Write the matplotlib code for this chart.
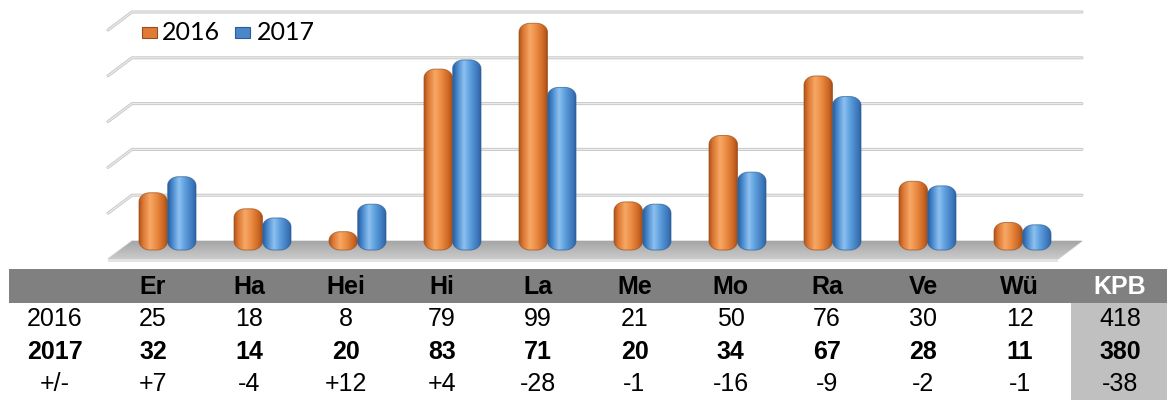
import numpy as np
import matplotlib
matplotlib.use("Agg")
import matplotlib.pyplot as plt
from matplotlib.patches import Polygon, Rectangle

# ---- data -------------------------------------------------------------
categories = ["Er", "Ha", "Hei", "Hi", "La", "Me", "Mo", "Ra", "Ve", "Wü"]
values_2016 = [25, 18, 8, 79, 99, 21, 50, 76, 30, 12]
values_2017 = [32, 14, 20, 83, 71, 20, 34, 67, 28, 11]
series_labels = ["2016", "2017"]
diff_label = "+/-"
total_label = "KPB"
gridline_values = [20, 40, 60, 80, 100]

totals = [sum(values_2016), sum(values_2017)]
diffs = [b - a for a, b in zip(values_2016, values_2017)]
total_diff = totals[1] - totals[0]

# ---- figure -----------------------------------------------------------
W, H = 1167, 400
fig = plt.figure(figsize=(W / 100, H / 100), dpi=100)
fig.patch.set_facecolor("white")

# table / legend layer in pixel coordinates
tax = fig.add_axes([0, 0, 1, 1], zorder=0)
tax.set_xlim(0, W)
tax.set_ylim(H, 0)
tax.axis("off")

# chart layer: x = category index, y = value
ax = fig.add_axes([120 / W, 150 / H, 950 / W, 229 / H], zorder=1)
ax.axis("off")
XMIN, XMAX = -0.5, len(categories) - 0.5
px_x = 950 / (XMAX - XMIN)      # pixels per category
px_y = 229 / 100.0              # pixels per value unit
dx = 12 / px_x                  # half depth of the floor (x)
dy = 9 / px_y                   # half depth of the floor (y)

# back-wall gridlines with their slanted side-wall segment
for v in gridline_values:
    ax.plot([XMIN - dx, XMIN + dx, XMAX + dx], [v - dy, v + dy, v + dy],
            color="#c9c9c9", lw=2.2, solid_capstyle="round", clip_on=False, zorder=1)
    ax.plot([XMIN - dx, XMIN + dx, XMAX + dx], [v - dy, v + dy, v + dy],
            color="#ededed", lw=0.8, clip_on=False, zorder=1)

# floor (parallelogram with a soft gradient and a thin front face)
floor = Polygon([(XMIN - dx, -dy), (XMAX - dx, -dy), (XMAX + dx, dy), (XMIN + dx, dy)],
                closed=True, facecolor="none", edgecolor="#d6d6d6", lw=1.0,
                clip_on=False, zorder=2)
ax.add_patch(floor)
fgrad = np.linspace(0, 1, 64)[:, None] * np.ones((1, 4))
fimg = ax.imshow(fgrad, extent=[XMIN - dx, XMAX + dx, -dy, dy], origin="upper",
                 cmap=matplotlib.colors.LinearSegmentedColormap.from_list(
                     "floor", ["#a6a6a6", "#cacaca"]),
                 aspect="auto", interpolation="bicubic", zorder=2)
fimg.set_clip_box(fig.bbox)
fimg.set_clip_path(floor)
front = Polygon([(XMIN - dx, -dy), (XMAX - dx, -dy), (XMAX - dx, -dy - 3 / px_y),
                 (XMIN - dx, -dy - 3 / px_y)], closed=True, facecolor="#e3e3e3",
                edgecolor="none", clip_on=False, zorder=2)
ax.add_patch(front)


def shade(stops, n=96):
    pos = np.array([s[0] for s in stops])
    cols = np.array([matplotlib.colors.to_rgb(s[1]) for s in stops])
    t = np.linspace(0, 1, n)
    return np.stack([np.interp(t, pos, cols[:, k]) for k in range(3)], axis=-1)[None, :, :]


orange_grad = shade([(0.0, "#a9521c"), (0.12, "#d9732e"), (0.38, "#f7a866"),
                     (0.6, "#ec8c44"), (0.88, "#c8631f"), (1.0, "#99481a")])
blue_grad = shade([(0.0, "#2a5f9e"), (0.12, "#3f80c6"), (0.38, "#8dc1f0"),
                   (0.6, "#5b9ddc"), (0.88, "#3a74b8"), (1.0, "#285a96")])


def rounded_bar(x0, x1, top, rx, ry_max, n=14):
    ry = min(ry_max, top / 2.0)
    t = np.linspace(0, np.pi / 2, n)
    pts = []
    # bottom-left, bottom-right, top-right, top-left corners
    for cx, cy, a0 in [(x0 + rx, ry, np.pi), (x1 - rx, ry, 1.5 * np.pi),
                       (x1 - rx, top - ry, 0.0), (x0 + rx, top - ry, 0.5 * np.pi)]:
        ang = a0 + t
        pts.extend(zip(cx + rx * np.cos(ang), cy + ry * np.sin(ang)))
    return np.array(pts)


bar_w = 0.3
rx = 11 / px_x
ry = 9 / px_y
for vals, grad, edge, side in [(values_2016, orange_grad, "#a0501c", -1),
                               (values_2017, blue_grad, "#2f5f98", 0)]:
    for i, v in enumerate(vals):
        x0 = i + side * bar_w
        x1 = x0 + bar_w
        poly = Polygon(rounded_bar(x0, x1, v, rx, ry), closed=True,
                       facecolor="none", edgecolor=edge, lw=0.7, alpha=0.7,
                       clip_on=False, zorder=4)
        ax.add_patch(poly)
        img = ax.imshow(grad, extent=[x0, x1, 0, v], aspect="auto",
                        interpolation="bicubic", zorder=3)
        img.set_clip_box(fig.bbox)
        img.set_clip_path(poly)

ax.set_xlim(XMIN, XMAX)
ax.set_ylim(0, 100)

# ---- legend -----------------------------------------------------------
for lx, tx, col, edge, lab in [(142, 162, "#e07b35", "#9a4c1a", series_labels[0]),
                               (235, 257, "#4a86c8", "#2c5c94", series_labels[1])]:
    tax.add_patch(Rectangle((lx, 27), 15, 11, facecolor=col, edgecolor=edge, lw=0.8))
    tax.text(tx, 33, lab, fontsize=18, family="Lato", va="center", ha="left", color="black")

# ---- table -----------------------------------------------------------
tax.add_patch(Rectangle((9, 269), W - 9, 34, facecolor="#808080", edgecolor="none"))
tax.add_patch(Rectangle((1071, 303), W - 1071, H - 303, facecolor="#c0c0c0", edgecolor="none"))

col_x = [153 + 96.3 * i for i in range(len(categories))]
kpb_x = 1120
label_x = 55
row_y = {"head": 287, "2016": 319, "2017": 352, "diff": 384}
tfont = dict(family="Liberation Sans", fontsize=18, ha="center", va="center")

for cx, cat in zip(col_x, categories):
    tax.text(cx, row_y["head"], cat, fontweight="bold", color="black", **tfont)
tax.text(kpb_x, row_y["head"], total_label, fontweight="bold", color="white", **tfont)

tax.text(label_x, row_y["2016"], series_labels[0], color="black", **tfont)
tax.text(label_x, row_y["2017"], series_labels[1], fontweight="bold", color="black", **tfont)
tax.text(label_x, row_y["diff"], diff_label, color="black", **tfont)

for cx, a, b, d in zip(col_x, values_2016, values_2017, diffs):
    tax.text(cx, row_y["2016"], str(a), color="black", **tfont)
    tax.text(cx, row_y["2017"], str(b), fontweight="bold", color="black", **tfont)
    tax.text(cx, row_y["diff"], f"{d:+d}", color="black", **tfont)
tax.text(kpb_x, row_y["2016"], str(totals[0]), color="black", **tfont)
tax.text(kpb_x, row_y["2017"], str(totals[1]), fontweight="bold", color="black", **tfont)
tax.text(kpb_x, row_y["diff"], f"{total_diff:+d}", color="black", **tfont)

fig.savefig("out.png", dpi=100, facecolor="white")
